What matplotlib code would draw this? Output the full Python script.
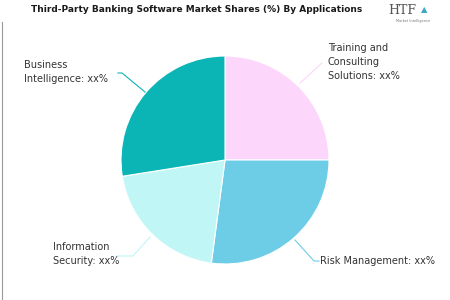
import matplotlib.pyplot as plt
from matplotlib.lines import Line2D

# data
labels = ['Training and\nConsulting\nSolutions: xx%', 'Risk Management: xx%',
          'Information\nSecurity: xx%', 'Business\nIntelligence: xx%']
shares = [25.0, 27.1, 20.4, 27.5]
colors = ['#fcd6fb', '#6dcde6', '#c1f6f7', '#0cb5b5']
title = 'Third-Party Banking Software Market Shares (%) By Applications'

W, H = 450, 300
fig = plt.figure(figsize=(4.5, 3), dpi=100)

def fx(x):
    return x / W

def fy(y):
    return 1 - y / H

# pie centred at (225,160) px, radius ~104 px
cx, cy, r = 225, 160, 104
ax = fig.add_axes([fx(cx - r), fy(cy + r), 2 * r / W, 2 * r / H])
ax.pie(shares, colors=colors, startangle=90, counterclock=False,
       wedgeprops=dict(edgecolor='white', linewidth=0.8))
ax.set_xlim(-1, 1)
ax.set_ylim(-1, 1)
ax.set_aspect('auto')

# title
fig.text(fx(197), fy(10), title, ha='center', va='center', fontsize=6.5,
         fontweight='heavy', color='#1a1a1a')

# logo
fig.text(fx(402), fy(11), 'HTF', ha='center', va='center', fontsize=9,
         family='DejaVu Serif', color='#555555')
fig.text(fx(424), fy(10), '\u25B2', ha='center', va='center', fontsize=6,
         color='#3aa6c8')
fig.text(fx(413), fy(21), 'Market Intelligence', ha='center', va='center',
         fontsize=2.5, color='#777777')

# left border
fig.add_artist(Line2D([fx(2), fx(2)], [fy(22), fy(300)], color='#999999', lw=0.8))

txt = dict(fontsize=7, color='#333333', va='center', ha='left', linespacing=1.5)

# label positions (px) and connector lines
fig.text(fx(328), fy(62), labels[0], **txt)
fig.add_artist(Line2D([fx(322), fx(300)], [fy(63), fy(83)], color=colors[0], lw=0.8))

fig.text(fx(320), fy(261), labels[1], **txt)
fig.add_artist(Line2D([fx(319), fx(314), fx(295)], [fy(261), fy(261), fy(240)],
                      color=colors[1], lw=0.8))

fig.text(fx(53), fy(254), labels[2], **txt)
fig.add_artist(Line2D([fx(116), fx(133), fx(150)], [fy(256), fy(256), fy(237)],
                      color=colors[2], lw=0.8))

fig.text(fx(24), fy(72), labels[3], **txt)
fig.add_artist(Line2D([fx(118), fx(122), fx(145)], [fy(73), fy(73), fy(92)],
                      color=colors[3], lw=0.8))

fig.savefig('out.png', dpi=100, facecolor='white')
